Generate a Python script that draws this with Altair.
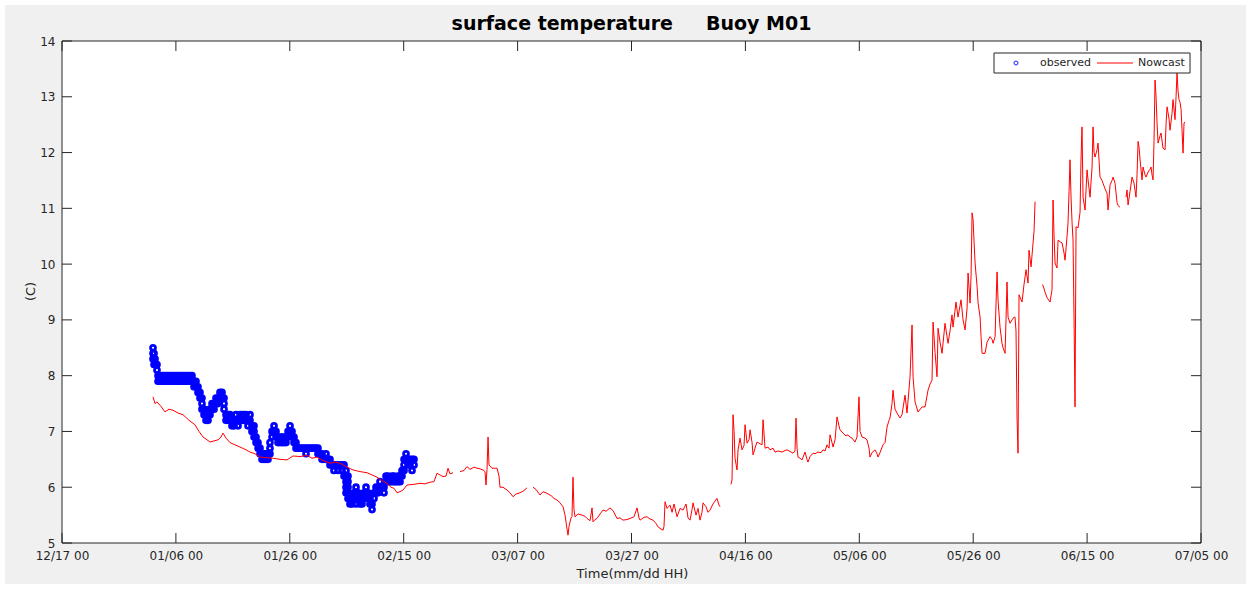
import altair as alt
import pandas as pd
import numpy as np

# ---- data (x = days since 12/17 00, y = deg C) ----
x_ticks = [0, 20, 40, 60, 80, 100, 120, 140, 160, 180, 200]
y_ticks = [5, 6, 7, 8, 9, 10, 11, 12, 13, 14]

# observed: (day, list of readings around that time)
observed = [
    (15.98, [8.5, 8.4, 8.3]), (16.16, [8.4, 8.2]), (16.33, [8.3, 8.2]), (16.51, [8.2]), (16.68, [8.2, 8.1]),
    (16.86, [8.0, 7.9]), (17.21, [7.9, 8.0]), (17.56, [8.0, 7.9]), (17.91, [7.9, 8.0]), (18.26, [8.0, 7.9]),
    (18.61, [7.9, 8.0]), (18.96, [8.0, 7.9]), (19.32, [8.0, 7.9]), (19.67, [7.9, 8.0]), (20.02, [8.0, 7.9]),
    (20.37, [8.0, 7.9]), (20.72, [7.9, 8.0]), (21.07, [8.0, 7.9]), (21.42, [8.0, 7.9]), (21.77, [7.9, 8.0]),
    (22.13, [8.0, 7.9]), (22.48, [8.0, 7.9]), (22.83, [7.9, 8.0]), (23.18, [7.9, 7.8]), (23.53, [7.8, 7.9]),
    (23.88, [7.7, 7.8]), (24.23, [7.7, 7.6]), (24.58, [7.5, 7.4, 7.6]), (24.94, [7.3, 7.4]), (25.29, [7.2, 7.3]),
    (25.64, [7.2, 7.3]), (25.99, [7.3, 7.4]), (26.34, [7.4, 7.5]), (26.69, [7.4, 7.5]), (27.04, [7.5, 7.6]),
    (27.39, [7.5, 7.6]), (27.74, [7.6, 7.7]), (28.10, [7.7, 7.6]), (28.45, [7.6, 7.5, 7.4]), (28.80, [7.3, 7.2]),
    (29.15, [7.2, 7.3]), (29.50, [7.3, 7.2]), (29.85, [7.2, 7.1]), (30.20, [7.1, 7.2]), (30.55, [7.2, 7.3]),
    (30.91, [7.1, 7.2]), (31.26, [7.2, 7.3]), (31.61, [7.3, 7.2]), (31.96, [7.2, 7.3]), (32.31, [7.3, 7.2]),
    (32.66, [7.2, 7.1]), (33.01, [7.3, 7.2]), (33.36, [7.1, 7.0]), (33.72, [7.0, 7.1, 6.9]), (34.07, [6.9, 6.8]),
    (34.42, [6.8, 6.7]), (34.77, [6.7, 6.6]), (35.12, [6.6, 6.5]), (35.47, [6.5, 6.6]), (35.82, [6.6, 6.5]),
    (36.17, [6.5, 6.6]), (36.52, [6.6, 6.7, 6.8]), (36.88, [6.9, 7.0]), (37.23, [7.1, 7.0]), (37.58, [7.0, 6.9]),
    (37.93, [6.8, 6.9]), (38.28, [6.8, 6.9]), (38.63, [6.9, 6.8]), (38.98, [6.8, 6.9]), (39.33, [6.8, 6.9]),
    (39.69, [7.0, 6.9]), (40.04, [7.1, 7.0]), (40.39, [7.0, 6.9]), (40.74, [6.9, 6.8]), (41.09, [6.8, 6.7]),
    (41.44, [6.7]), (41.79, [6.7]), (42.14, [6.7]), (42.50, [6.7]), (42.85, [6.6, 6.7]), (43.20, [6.7]),
    (43.55, [6.7]), (43.90, [6.7]), (44.25, [6.7]), (44.60, [6.7]), (44.95, [6.6, 6.7]), (45.30, [6.6]),
    (45.66, [6.5, 6.6]), (46.01, [6.5]), (46.36, [6.6, 6.5]), (46.71, [6.5]), (47.06, [6.5, 6.4]), (47.41, [6.4]),
    (47.76, [6.4, 6.3]), (48.11, [6.4]), (48.47, [6.4, 6.3]), (48.82, [6.4]), (49.17, [6.3, 6.4]),
    (49.52, [6.4, 6.2]), (49.87, [6.3, 6.2, 6.1, 6.0, 5.9]), (50.22, [6.2, 6.1, 6.0, 5.9, 5.8]), (50.57, [5.8, 5.7]),
    (50.92, [5.7, 5.8]), (51.28, [5.8, 5.9]), (51.63, [5.7, 5.9, 6.0]), (51.98, [5.9, 5.8]), (52.33, [5.8, 5.7]),
    (52.68, [5.7, 5.8]), (53.03, [5.9, 5.8]), (53.38, [6.0, 5.9]), (53.73, [5.8, 5.9]), (54.08, [5.7, 5.8]),
    (54.44, [5.6, 5.7]), (54.79, [5.8, 5.9]), (55.14, [6.0, 5.9]), (55.49, [5.9, 6.0]), (55.84, [6.0, 6.1]),
    (56.19, [6.0]), (56.54, [5.9, 6.0]), (56.89, [6.1, 6.2]), (57.25, [6.2, 6.1]), (57.60, [6.1]),
    (57.95, [6.1, 6.2]), (58.30, [6.2, 6.1]), (58.65, [6.1]), (59.00, [6.1, 6.2]), (59.35, [6.1, 6.2]),
    (59.70, [6.2, 6.3]), (60.06, [6.4, 6.3, 6.5]), (60.41, [6.6, 6.5]), (60.76, [6.5, 6.4]), (61.11, [6.4, 6.5]),
    (61.46, [6.5, 6.3]), (61.81, [6.4, 6.5]),
]

# None marks a break in the Nowcast line
nowcast = [
    (15.98, 7.62), (16.33, 7.50), (16.68, 7.53), (17.38, 7.45), (18.09, 7.35), (18.79, 7.40), (19.49, 7.38),
    (20.37, 7.33), (21.25, 7.30), (22.30, 7.20), (23.35, 7.12), (24.06, 7.00), (24.76, 6.90), (25.46, 6.85),
    (25.99, 6.81), (26.69, 6.83), (27.39, 6.85), (27.92, 6.90), (28.27, 6.97), (28.80, 6.88), (29.50, 6.80),
    (30.38, 6.76), (31.26, 6.72), (32.13, 6.68), (33.01, 6.63), (33.89, 6.60), (34.77, 6.54), (35.82, 6.53),
    (37.05, 6.52), (38.28, 6.50), (39.51, 6.49), (40.56, 6.56), (41.79, 6.55), (43.02, 6.57), (43.90, 6.52),
    (44.78, 6.54), (45.83, 6.48), (47.06, 6.43), (47.94, 6.45), (48.82, 6.43), (50.05, 6.36), (51.10, 6.31),
    (52.33, 6.28), (53.56, 6.26), (54.44, 6.22), (55.31, 6.18), (56.19, 6.12), (57.07, 6.07), (57.77, 6.00),
    (58.30, 5.98), (58.83, 5.90), (59.35, 5.92), (59.88, 5.95), (60.58, 6.04), (61.64, 6.05), (62.86, 6.07),
    (63.74, 6.06), (64.62, 6.09), (65.32, 6.10), (65.85, 6.25), (66.38, 6.22), (66.90, 6.19), (67.43, 6.20),
    (67.78, 6.34), (68.13, 6.24), (68.66, 6.26),
    None,
    (69.89, 6.28), (70.59, 6.30), (71.12, 6.37), (71.64, 6.32), (72.35, 6.36), (72.87, 6.34), (73.40, 6.33),
    (73.93, 6.31), (74.28, 6.28), (74.45, 6.04), (74.63, 6.32), (74.81, 6.90), (74.98, 6.40), (75.51, 6.34),
    (76.39, 6.34), (76.74, 6.20), (76.91, 6.00), (77.44, 6.00), (78.14, 5.95), (78.67, 5.90), (79.20, 5.83),
    (79.72, 5.88), (80.42, 5.90), (81.12, 5.94), (81.65, 5.99),
    None,
    (82.71, 6.00), (83.23, 5.96), (83.94, 5.86), (84.46, 5.92), (85.17, 5.89), (85.87, 5.85), (86.40, 5.80),
    (86.92, 5.77), (87.45, 5.72), (87.98, 5.65), (88.33, 5.50), (88.68, 5.25), (88.85, 5.14), (89.03, 5.30),
    (89.38, 5.45), (89.55, 5.47), (89.73, 6.18), (89.90, 5.60), (90.08, 5.47), (90.60, 5.52), (91.31, 5.50),
    (91.83, 5.48), (92.19, 5.44), (92.72, 5.40), (93.07, 5.63), (93.24, 5.38), (93.59, 5.42), (93.95, 5.44),
    (94.47, 5.52), (95.00, 5.59), (95.53, 5.57), (96.23, 5.63), (96.76, 5.58), (97.46, 5.44), (97.98, 5.45),
    (98.51, 5.41), (99.21, 5.42), (99.74, 5.44), (100.44, 5.47), (100.97, 5.63), (101.32, 5.45), (101.50, 5.41),
    (102.20, 5.46), (102.73, 5.47), (103.25, 5.43), (103.78, 5.41), (104.31, 5.35), (104.66, 5.29), (105.18, 5.25),
    (105.54, 5.23), (105.71, 5.30), (105.89, 5.74), (106.24, 5.62), (106.77, 5.68), (107.12, 5.55), (107.47, 5.70),
    (108.00, 5.47), (108.52, 5.62), (109.05, 5.59), (109.58, 5.70), (109.93, 5.45), (110.28, 5.41), (110.63, 5.60),
    (110.80, 5.72), (111.33, 5.50), (111.68, 5.62), (112.03, 5.41), (112.38, 5.55), (112.56, 5.72), (113.08, 5.65),
    (113.43, 5.55), (113.79, 5.59), (114.31, 5.70), (114.66, 5.75), (115.01, 5.80), (115.37, 5.68), (115.54, 5.65),
    None,
    (117.47, 6.05), (117.65, 6.13), (117.83, 7.30), (118.01, 7.00), (118.18, 6.52), (118.53, 6.31), (118.71, 6.67),
    (119.06, 6.88), (119.41, 6.67), (119.76, 6.75), (119.94, 7.12), (120.29, 6.79), (120.64, 6.85), (120.82, 7.03),
    (121.17, 6.80), (121.34, 6.58), (121.69, 6.70), (122.04, 6.81), (122.57, 6.78), (122.92, 6.76), (123.10, 7.21),
    (123.45, 6.70), (123.97, 6.72), (124.32, 6.67), (124.85, 6.70), (125.20, 6.63), (125.73, 6.65), (126.43, 6.63),
    (126.96, 6.66), (127.31, 6.67), (127.84, 6.64), (128.36, 6.61), (128.71, 6.65), (128.89, 7.24), (129.07, 6.70),
    (129.24, 6.54), (129.59, 6.52), (129.94, 6.49), (130.47, 6.63), (130.82, 6.50), (130.99, 6.45), (131.35, 6.55),
    (131.87, 6.61), (132.22, 6.60), (132.75, 6.63), (133.28, 6.62), (133.63, 6.67), (133.98, 6.65), (134.33, 6.76),
    (134.68, 6.70), (134.86, 6.94), (135.21, 6.80), (135.39, 6.72), (135.74, 6.85), (136.09, 7.26), (136.44, 7.10),
    (136.61, 7.03), (137.14, 6.97), (137.67, 6.92), (138.02, 6.94), (138.37, 6.90), (138.72, 6.88), (139.25, 6.81),
    (139.60, 6.90), (139.95, 7.62), (140.13, 7.00), (140.48, 6.90), (141.00, 6.88), (141.35, 6.85), (141.71, 6.70),
    (141.88, 6.54), (142.23, 6.62), (142.76, 6.67), (143.11, 6.60), (143.29, 6.54), (143.64, 6.62), (144.16, 6.76),
    (144.52, 6.80), (144.87, 7.08), (145.22, 7.20), (145.39, 7.24), (145.75, 7.50), (145.92, 7.74), (146.27, 7.40),
    (146.62, 7.33), (147.15, 7.24), (147.50, 7.30), (148.03, 7.65), (148.38, 7.33), (148.91, 7.98), (149.26, 8.91),
    (149.44, 7.98), (149.79, 7.53), (150.31, 7.35), (151.02, 7.44), (151.54, 7.44), (152.07, 7.74), (152.42, 7.85),
    (152.77, 7.92), (152.95, 8.96), (153.30, 8.42), (153.65, 7.98), (153.83, 8.85), (154.18, 8.60), (154.53, 8.40),
    (155.05, 8.94), (155.58, 8.58), (155.93, 8.80), (156.28, 9.09), (156.46, 8.87), (156.98, 9.32), (157.34, 9.05),
    (157.86, 9.36), (158.22, 9.00), (158.57, 8.82), (158.92, 9.20), (159.10, 9.84), (159.45, 9.30), (159.63, 9.80),
    (159.80, 10.92), (159.98, 10.80), (160.15, 10.40), (160.33, 10.02), (160.68, 9.60), (160.86, 9.30), (161.21, 9.05),
    (161.38, 8.70), (161.56, 8.40), (162.08, 8.40), (162.43, 8.60), (162.96, 8.70), (163.31, 8.65), (163.49, 8.58),
    (163.84, 8.70), (164.01, 9.30), (164.19, 9.86), (164.36, 9.36), (164.71, 8.87), (165.06, 8.58), (165.24, 8.50),
    (165.59, 8.40), (165.76, 9.00), (165.94, 9.68), (166.12, 9.05), (166.47, 8.94), (166.82, 9.00), (167.17, 9.05),
    (167.34, 9.05), (167.52, 8.80), (167.70, 7.24), (167.87, 6.61), (168.05, 9.45), (168.57, 9.32), (168.92, 9.63),
    (169.28, 9.90), (169.63, 9.66), (169.80, 10.25), (170.16, 9.95), (170.51, 10.38), (170.69, 10.60), (170.86, 11.12),
    None,
    (172.09, 9.63), (172.26, 9.62), (172.61, 9.50), (172.96, 9.40), (173.49, 9.32), (173.84, 9.54), (174.02, 11.15),
    (174.20, 10.50), (174.37, 10.02), (174.72, 9.93), (174.90, 10.43), (175.25, 10.40), (175.60, 10.38), (175.95, 10.20),
    (176.13, 10.07), (176.48, 10.50), (176.65, 10.74), (176.83, 11.30), (177.00, 11.87), (177.18, 11.20), (177.36, 10.74),
    (177.53, 10.43), (177.71, 9.00), (177.88, 7.44), (178.06, 10.67), (178.41, 10.65), (178.76, 10.93), (178.94, 11.92),
    (179.11, 12.46), (179.29, 11.20), (179.64, 10.97), (179.99, 11.69), (180.17, 11.51), (180.52, 11.20), (180.87, 11.74),
    (181.04, 12.46), (181.22, 12.00), (181.39, 11.92), (181.75, 12.05), (181.92, 12.17), (182.27, 11.56), (182.62, 11.50),
    (182.80, 11.45), (183.15, 11.35), (183.50, 11.27), (183.68, 10.97), (184.03, 11.42), (184.38, 11.50), (184.56, 11.56),
    (184.91, 11.45), (185.26, 11.10), (185.43, 11.05), (185.78, 11.02),
    None,
    (186.84, 11.20), (187.01, 11.33), (187.19, 11.06), (187.54, 11.30), (187.89, 11.56), (188.24, 11.45), (188.59, 11.20),
    (188.77, 11.60), (188.95, 12.20), (189.12, 12.10), (189.30, 11.87), (189.65, 11.51), (189.82, 11.74), (190.17, 11.60),
    (190.35, 11.56), (190.70, 11.65), (191.05, 11.70), (191.23, 11.74), (191.40, 11.60), (191.58, 11.51), (191.75, 12.20),
    (191.93, 13.30), (192.11, 13.00), (192.28, 12.53), (192.46, 12.17), (192.81, 12.30), (192.98, 12.35), (193.33, 12.08),
    (193.69, 12.05), (193.86, 12.50), (194.04, 12.82), (194.39, 12.60), (194.56, 12.40), (194.91, 12.70), (195.09, 12.95),
    (195.44, 12.59), (195.62, 13.00), (195.79, 13.43), (195.97, 13.10), (196.14, 12.95), (196.32, 12.90), (196.50, 12.77),
    (196.67, 12.40), (196.85, 11.99), (197.02, 12.53), (197.20, 12.55),
]

# ---- tables ----
obs_df = pd.DataFrame([{"day": d, "temp": t} for d, ts in observed for t in ts])
rows, seg = [], 0
for p in nowcast:
    if p is None:
        seg += 1
        continue
    rows.append({"day": p[0], "temp": p[1], "seg": seg})
now_df = pd.DataFrame(rows)
xt_df = pd.DataFrame({"day": x_ticks})
yt_df = pd.DataFrame({"temp": y_ticks})
one = pd.DataFrame({"k": [0]})

W, H = 1139, 502
FONT = "DejaVu Sans"
AX = "#262626"

x_enc = alt.X(
    "day:Q",
    scale=alt.Scale(domain=[0, 200], nice=False, zero=False),
    axis=alt.Axis(
        values=x_ticks,
        labelExpr="utcFormat(utc(2018,11,17) + datum.value*86400000, '%m/%d %H')",
        ticks=False, tickSize=0, domain=False, grid=False, zindex=1,
        labelPadding=7, labelFlush=False, labelOverlap=False,
        labelFontSize=12, labelFont=FONT, labelColor=AX,
        title="Time(mm/dd HH)", titleFont=FONT, titleFontSize=13, titleFontWeight="normal",
        titleColor=AX, titleX=570, titleY=30, titleAlign="center", titleBaseline="middle",
    ),
)
y_enc = alt.Y(
    "temp:Q",
    scale=alt.Scale(domain=[5, 14], nice=False, zero=False),
    axis=alt.Axis(
        values=y_ticks, format="d", ticks=False, tickSize=0, domain=False, grid=False, zindex=1,
        labelPadding=7, labelFontSize=12, labelFont=FONT, labelColor=AX,
        title="(C)", titleFont=FONT, titleFontSize=13, titleFontWeight="normal",
        titleColor=AX, titleX=-32, titleY=250, titleAlign="center", titleBaseline="middle",
    ),
)

# figure background (grey panel with a thin white margin) and the white axes box
fig_bg = alt.Chart(one).mark_rect(fill="#f0f0f0", strokeWidth=0).encode(
    x=alt.value(-57), x2=alt.value(1184), y=alt.value(-36), y2=alt.value(543)
)
ax_box = alt.Chart(one).mark_rect(fill="white", stroke=AX, strokeWidth=1).encode(
    x=alt.value(0), x2=alt.value(W), y=alt.value(0), y2=alt.value(H)
)

obs_layer = alt.Chart(obs_df).mark_point(
    shape="circle", filled=False, color="#0000ff", size=24, strokeWidth=2.8, opacity=1
).encode(x=x_enc, y=y_enc)

now_layer = alt.Chart(now_df).mark_line(color="#ff0000", strokeWidth=1).encode(
    x="day:Q", y="temp:Q", detail="seg:N", order="day:Q"
)

tick_style = dict(color=AX, strokeWidth=1)
tb = alt.Chart(xt_df).mark_rule(**tick_style).encode(x="day:Q", y=alt.value(H), y2=alt.value(H - 10))
tt = alt.Chart(xt_df).mark_rule(**tick_style).encode(x="day:Q", y=alt.value(0), y2=alt.value(10))
tl = alt.Chart(yt_df).mark_rule(**tick_style).encode(y="temp:Q", x=alt.value(0), x2=alt.value(10))
tr = alt.Chart(yt_df).mark_rule(**tick_style).encode(y="temp:Q", x=alt.value(W), x2=alt.value(W - 10))

# title as text above the plot area
title = alt.Chart(one).mark_text(
    align="center", baseline="alphabetic", font=FONT, fontSize=19, fontWeight="bold", color="black"
).encode(
    x=alt.value(W / 2), y=alt.value(-11),
    text=alt.value("surface temperature\u00a0\u00a0\u00a0\u00a0\u00a0Buoy M01"),
)

# legend box
leg_box = alt.Chart(one).mark_rect(fill="white", stroke=AX, strokeWidth=1).encode(
    x=alt.value(932), x2=alt.value(1128), y=alt.value(12), y2=alt.value(32)
)
leg_pt = alt.Chart(one).mark_point(shape="circle", filled=False, color="#0000ff", size=14, strokeWidth=1.2).encode(
    x=alt.value(954), y=alt.value(22)
)
leg_t1 = alt.Chart(one).mark_text(align="left", baseline="middle", font=FONT, fontSize=11, color=AX).encode(
    x=alt.value(978), y=alt.value(22), text=alt.value("observed")
)
leg_ln = alt.Chart(one).mark_rule(color="#ff0000", strokeWidth=1).encode(
    x=alt.value(1035), x2=alt.value(1071), y=alt.value(22)
)
leg_t2 = alt.Chart(one).mark_text(align="left", baseline="middle", font=FONT, fontSize=11, color=AX).encode(
    x=alt.value(1076), y=alt.value(22), text=alt.value("Nowcast")
)

chart = alt.layer(
    fig_bg, ax_box, obs_layer, now_layer, tb, tt, tl, tr, title,
    leg_box, leg_pt, leg_t1, leg_ln, leg_t2
).properties(
    width=W, height=H,
    background="white",
    padding={"left": 62, "top": 41, "right": 50, "bottom": 47},
    autosize=alt.AutoSizeParams(type="none"),
).configure_view(fill="white", strokeWidth=0)

chart.save("out.html", embed_options={"renderer": "svg", "actions": False})
